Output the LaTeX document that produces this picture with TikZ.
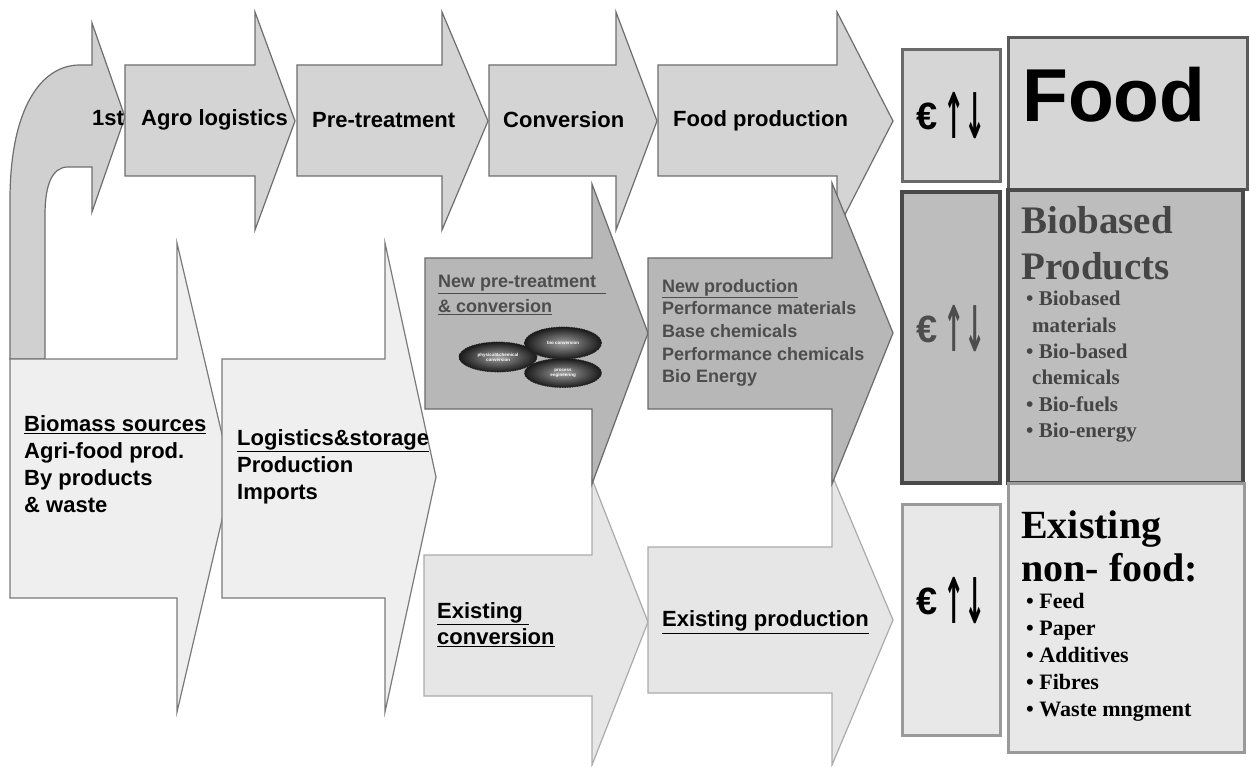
\documentclass[tikz,border=0pt]{standalone}
\usepackage{fontspec}
\usepackage{graphicx}
\setmainfont{Liberation Sans}
\newfontfamily\serifb{Liberation Serif}
\newfontfamily\djv{DejaVu Sans}
\usetikzlibrary{shapes.geometric}

\definecolor{curvefill}{HTML}{D0D0D0}
\definecolor{topfill}{HTML}{D4D4D4}
\definecolor{topline}{HTML}{6E6E6E}
\definecolor{leftfill}{HTML}{EFEFEF}
\definecolor{leftline}{HTML}{7A7A7A}
\definecolor{midfill}{HTML}{B7B7B7}
\definecolor{midline}{HTML}{6A6A6A}
\definecolor{botfill}{HTML}{E6E6E6}
\definecolor{botline}{HTML}{ABABAB}
\definecolor{eurtopfill}{HTML}{D6D6D6}
\definecolor{eurtopline}{HTML}{6A6A6A}
\definecolor{foodline}{HTML}{5A5A5A}
\definecolor{biofill}{HTML}{BDBDBD}
\definecolor{bioline}{HTML}{4A4A4A}
\definecolor{exfill}{HTML}{E8E8E8}
\definecolor{exline}{HTML}{9A9A9A}
\definecolor{midtext}{HTML}{4D4D4D}
\definecolor{biotext}{HTML}{454545}

\newcommand{\blockarrow}[9]{%
  \path[#1] (#2,#6) -- (#3,#6) -- (#3,#8) -- (#4,#5) -- (#3,#9) -- (#3,#7) -- (#2,#7) -- cycle;}
\newcommand{\eurarrows}{{\bfseries\fontsize{38}{38}\selectfont €}\hspace{6pt}{\djv\bfseries\fontsize{30}{30}\selectfont\raisebox{-9pt}{\scalebox{0.85}[2.1]{↑↓}}}}

\begin{document}
\begin{tikzpicture}[x=1pt,y=-1pt,
  shp/.style={line width=1.2pt, line join=miter},
  curvearrow/.style={shp, fill=curvefill, draw=topline},
  toparrow/.style={shp, fill=topfill, draw=topline},
  leftarrow/.style={shp, fill=leftfill, draw=leftline},
  midarrow/.style={shp, fill=midfill, draw=midline},
  botarrow/.style={shp, fill=botfill, draw=botline},
  eurtop/.style={line width=3pt, fill=eurtopfill, draw=eurtopline},
  foodbox/.style={line width=3pt, fill=eurtopfill, draw=foodline},
  eurmid/.style={line width=3.5pt, fill=biofill, draw=bioline},
  biobox/.style={line width=3.5pt, fill=biofill, draw=bioline},
  exbox/.style={line width=3pt, fill=exfill, draw=exline},
  lbl/.style={inner sep=0pt, align=left, font=\bfseries\fontsize{22}{27}\selectfont},
  ell/.style={ellipse, inner sep=0pt, draw=black!85, dash pattern=on 1.5pt off 1pt,
    line width=0.7pt, shade, inner color=gray!75, outer color=black!90,
    text=white, align=center, font=\bfseries\fontsize{4.5}{5}\selectfont},
  eur/.style={inner sep=0pt}
]
\useasboundingbox (0,0) rectangle (1250,767);
\fill[white] (0,0) rectangle (1250,767);

% curved first arrow
\path[curvearrow] (10,359) -- (10,200) .. controls (10,110) and (40,65) .. (80,65)
  -- (92,65) -- (92,23) -- (125,117) -- (92,212) -- (92,167) -- (68,167)
  .. controls (52,167) and (45,185) .. (45,215) -- (45,359) -- cycle;

% top row
\blockarrow{toparrow}{125}{255}{295}{121}{65}{176}{12}{230}
\blockarrow{toparrow}{297}{442}{488}{121}{65}{176}{12}{230}
\blockarrow{toparrow}{489}{616}{657}{121}{65}{176}{12}{230}
\blockarrow{toparrow}{658}{837}{893}{121}{65}{176}{12}{230}

% left column
\blockarrow{leftarrow}{10}{177}{232}{477}{359}{598}{243}{712}
\blockarrow{leftarrow}{222}{385}{436}{477}{359}{598}{243}{712}

% bottom row
\blockarrow{botarrow}{424}{592}{648}{622}{555}{696}{479}{765}
\blockarrow{botarrow}{648}{832}{893}{620}{547}{693}{475}{765}

% middle row
\blockarrow{midarrow}{425}{592}{648}{333}{258}{409}{184}{484}
\blockarrow{midarrow}{648}{832}{893}{333}{258}{409}{183}{484}

% right boxes
\path[eurtop] (902,50) rectangle (1000,182);
\path[foodbox] (1008,38) rectangle (1247,190);
\path[eurmid] (902,192) rectangle (1000,483);
\path[biobox] (1008,190) rectangle (1243,483);
\path[exbox] (902,504) rectangle (1000,735);
\path[exbox] (1008,483) rectangle (1244,752);

% top row labels
\node[lbl, anchor=west] (t1st) at (92,118) {1st};
\node[lbl, anchor=west] (tagro) at (141,120) {Agro logistics};
\node[lbl, anchor=west] (tpre) at (312,120) {Pre-treatment};
\node[lbl, anchor=west] (tconv) at (503,120) {Conversion};
\node[lbl, anchor=west] (tfood) at (673,121) {Food production};

% left labels
\node[lbl, anchor=north west] (tbio) at (24,415)
  {\underline{Biomass sources}\\Agri-food prod.\\By products\\\& waste};
\node[lbl, anchor=north west] (tlog) at (237,429)
  {\underline{Logistics\&storage}\\Production\\Imports};

% middle labels
\node[lbl, anchor=north west, font=\bfseries\fontsize{18}{25}\selectfont, text=midtext] (tnpre) at (438,275)
  {\underline{New pre-treatment\ \ }\\\underline{\& conversion}};
\node[lbl, anchor=north west, font=\bfseries\fontsize{18}{22.6}\selectfont, text=midtext] (tnprod) at (662,279)
  {\underline{New production}\\Performance materials\\Base chemicals\\Performance chemicals\\Bio Energy};

% ellipses
\node[ell, minimum width=78, minimum height=30] (ell1) at (498,357) {physical\&chemical\\conversion};
\node[ell, minimum width=77, minimum height=32] (ell2) at (563,343) {bio conversion};
\node[ell, minimum width=77, minimum height=29] (ell3) at (563,373) {process\\engineering};

% bottom labels
\node[lbl, anchor=north west, font=\bfseries\fontsize{22}{26}\selectfont] (texc) at (437,602)
  {\underline{Existing\ }\\\underline{conversion}};
\node[lbl, anchor=west] (texp) at (662,622) {\underline{Existing production}};

% euro symbols
\node[eur] (eu1) at (951,116) {\eurarrows};
\node[eur, text=midtext] (eu2) at (951,329) {\eurarrows};
\node[eur] (eu3) at (951,601) {\eurarrows};

% right texts
\node[anchor=base west, inner sep=0pt, font=\bfseries\fontsize{75}{75}\selectfont] (tfoodbig) at (1022,122) {Food};
\node[inner sep=0pt, anchor=north west, align=left, text=biotext,
  font=\serifb\bfseries\fontsize{39}{46}\selectfont] (tbb) at (1021,206) {Biobased\\Products};
\node[inner sep=0pt, anchor=north west, align=left, text=biotext,
  font=\serifb\bfseries\fontsize{21}{26.4}\selectfont] (tbbl) at (1026,291)
  {• Biobased\\\hspace*{6pt}materials\\• Bio-based\\\hspace*{6pt}chemicals\\• Bio-fuels\\• Bio-energy};
\node[inner sep=0pt, anchor=north west, align=left,
  font=\serifb\bfseries\fontsize{40}{43}\selectfont] (tex) at (1021,511) {Existing\\non- food:};
\node[inner sep=0pt, anchor=north west, align=left,
  font=\serifb\bfseries\fontsize{22}{27}\selectfont] (texl) at (1026,593)
  {• Feed\\• Paper\\• Additives\\• Fibres\\• Waste mngment};
\end{tikzpicture}
\end{document}
